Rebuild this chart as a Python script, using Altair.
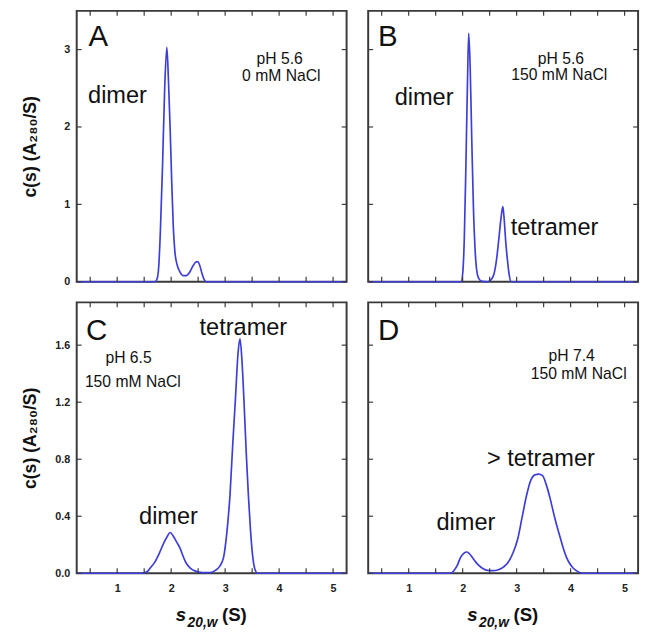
import altair as alt
import pandas as pd

# ---------------- data ----------------
S_A = [0.25, 1.70, 1.74, 1.77, 1.80, 1.84, 1.88, 1.92, 1.95, 1.98, 2.01, 2.04, 2.07, 2.11, 2.16,
       2.22, 2.28, 2.34, 2.40, 2.45, 2.49, 2.53, 2.57, 2.61, 2.65, 5.25]
C_A = [0, 0, 0.04, 0.20, 0.65, 1.50, 2.50, 3.03, 2.60, 2.00, 1.30, 0.70, 0.38, 0.22, 0.13,
       0.08, 0.08, 0.12, 0.20, 0.25, 0.26, 0.21, 0.11, 0.03, 0, 0]

S_B = [0.25, 1.97, 2.00, 2.03, 2.06, 2.09, 2.112, 2.14, 2.17, 2.20, 2.23, 2.26, 2.30, 2.36, 2.46,
       2.52, 2.58, 2.63, 2.67, 2.71, 2.745, 2.77, 2.80, 2.83, 2.86, 2.90, 5.25]
C_B = [0, 0, 0.10, 0.55, 1.50, 2.60, 3.21, 2.75, 1.80, 0.95, 0.42, 0.15, 0.04, 0.005, 0,
       0.02, 0.10, 0.30, 0.55, 0.82, 0.97, 0.80, 0.50, 0.28, 0.10, 0, 0]

S_C = [0.25, 1.45, 1.55, 1.62, 1.70, 1.78, 1.86, 1.93, 1.98, 2.04, 2.10, 2.16, 2.22, 2.28, 2.36,
       2.45, 2.58, 2.72, 2.82, 2.90, 2.97, 3.03, 3.09, 3.14, 3.19, 3.24, 3.275, 3.31, 3.35, 3.39,
       3.43, 3.47, 3.51, 3.55, 3.60, 5.25]
C_C = [0, 0, 0.01, 0.04, 0.08, 0.14, 0.21, 0.26, 0.286, 0.26, 0.22, 0.18, 0.12, 0.07, 0.035,
       0.015, 0.005, 0.005, 0.02, 0.05, 0.11, 0.28, 0.55, 0.90, 1.22, 1.55, 1.645, 1.50, 1.20, 0.85,
       0.55, 0.30, 0.12, 0.03, 0, 0]

S_D = [0.25, 1.78, 1.84, 1.90, 1.96, 2.02, 2.08, 2.13, 2.18, 2.24, 2.30, 2.38, 2.46, 2.56, 2.66,
       2.76, 2.84, 2.93, 3.02, 3.10, 3.18, 3.26, 3.34, 3.41, 3.48, 3.55, 3.62, 3.68, 3.74, 3.80,
       3.86, 3.92, 3.98, 4.05, 4.12, 4.22, 5.25]
C_D = [0, 0, 0.02, 0.055, 0.11, 0.14, 0.149, 0.135, 0.11, 0.08, 0.055, 0.032, 0.02, 0.018, 0.025,
       0.045, 0.075, 0.14, 0.24, 0.39, 0.54, 0.65, 0.69, 0.695, 0.685, 0.62, 0.525, 0.43, 0.34, 0.26,
       0.18, 0.115, 0.07, 0.035, 0.015, 0, 0]

X_DOMAIN = [0.25, 5.25]
X_TICKS = [0.5, 1.0, 1.5, 2.0, 2.5, 3.0, 3.5, 4.0, 4.5, 5.0]
X_LABELS = [1, 2, 3, 4, 5]
Y_DOMAIN_TOP = [0, 3.5]
Y_TICKS_TOP = [0, 1, 2, 3]
Y_DOMAIN_BOT = [0, 1.9]
Y_TICKS_BOT = [0, 0.4, 0.8, 1.2, 1.6]

# annotations: label, s, c, font size, align
ANN_A = [("A", 0.47, 3.05, 30, "left"), ("dimer", 0.46, 2.31, 24, "left"),
         ("pH 5.6", 4.01, 2.82, 16, "center"), ("0 mM NaCl", 4.04, 2.60, 16, "center")]
ANN_B = [("B", 0.43, 3.05, 30, "left"), ("dimer", 0.74, 2.29, 24, "left"),
         ("tetramer", 2.89, 0.61, 24, "left"),
         ("pH 5.6", 3.82, 2.82, 16, "center"), ("150 mM NaCl", 3.79, 2.61, 16, "center")]
ANN_C = [("C", 0.42, 1.634, 30, "left"), ("tetramer", 3.337, 1.669, 24, "center"),
         ("dimer", 1.95, 0.343, 24, "center"),
         ("pH 6.5", 1.21, 1.477, 16, "center"), ("150 mM NaCl", 1.29, 1.307, 16, "center")]
ANN_D = [("D", 0.43, 1.634, 30, "left"), ("> tetramer", 3.45, 0.75, 24, "center"),
         ("dimer", 2.06, 0.30, 24, "center"),
         ("pH 7.4", 4.02, 1.49, 16, "center"), ("150 mM NaCl", 4.15, 1.365, 16, "center")]

Y_TITLE = "c(s) (A\u2082\u2088\u2080/S)"

# ---------------- styling ----------------
W, H = 275, 276
FONT = "Liberation Sans"
LINE = "#3d3dd9"
FRAME = "#3a3a3a"
TXT = "#111111"


def panel(s, c, ydom, yticks, ann, show_x, show_y, yfmt):
    xs = alt.Scale(domain=X_DOMAIN, nice=False, zero=False)
    ys = alt.Scale(domain=ydom, nice=False, zero=False)
    if show_x:
        xaxis = alt.Axis(values=X_LABELS, format="d", grid=False, ticks=False, tickSize=0,
                         domain=False, labelPadding=10, labelFont=FONT, labelFontSize=11,
                         labelFontWeight="bold", labelColor="#222", title=None)
    else:
        xaxis = None
    if show_y:
        yaxis = alt.Axis(values=yticks, format=yfmt, grid=False, ticks=False, tickSize=0,
                         domain=False, labelPadding=7, labelFont=FONT, labelFontSize=11,
                         labelFontWeight="bold", labelColor="#222", title=Y_TITLE,
                         titleFont=FONT, titleFontSize=18, titleFontWeight="bold",
                         titleColor=TXT, minExtent=22, maxExtent=22, titlePadding=16)
    else:
        yaxis = None

    def X(f):
        return alt.X(f, scale=xs, axis=xaxis)

    def Y(f):
        return alt.Y(f, scale=ys, axis=yaxis)

    df = pd.DataFrame({"s": s, "c": c})
    line = alt.Chart(df).mark_line(color=LINE, strokeWidth=1.7, interpolate="monotone").encode(
        x=X("s:Q"), y=Y("c:Q"))

    xt = pd.DataFrame({"s": X_TICKS})
    yt = pd.DataFrame({"c": yticks})
    rule = dict(color=FRAME, strokeWidth=1.2)
    tick_top = alt.Chart(xt).mark_rule(**rule).encode(
        x=X("s:Q"), y=alt.value(0), y2=alt.value(5))
    tick_bot = alt.Chart(xt).mark_rule(**rule).encode(
        x=X("s:Q"), y=alt.value(H - 5), y2=alt.value(H))
    tick_left = alt.Chart(yt).mark_rule(**rule).encode(
        y=Y("c:Q"), x=alt.value(0), x2=alt.value(5))
    tick_right = alt.Chart(yt).mark_rule(**rule).encode(
        y=Y("c:Q"), x=alt.value(W - 5), x2=alt.value(W))

    layers = [line, tick_top, tick_bot, tick_left, tick_right]

    adf = pd.DataFrame(ann, columns=["label", "s", "c", "fs", "align"])
    for al in ["left", "center"]:
        sub = adf[adf["align"] == al]
        if len(sub) == 0:
            continue
        layers.append(
            alt.Chart(sub).mark_text(align=al, baseline="alphabetic", font=FONT, color=TXT).encode(
                x=X("s:Q"), y=Y("c:Q"),
                text="label:N",
                size=alt.Size("fs:Q", scale=None, legend=None),
            )
        )

    if show_x:
        one = pd.DataFrame({"k": [0]})
        layers.append(alt.Chart(one).mark_text(
            text="s", align="left", baseline="alphabetic", font=FONT, fontSize=19,
            fontWeight="bold", fontStyle="italic", color=TXT).encode(
            x=alt.value(101), y=alt.value(H + 49)))
        layers.append(alt.Chart(one).mark_text(
            text="20,w", align="left", baseline="alphabetic", font=FONT, fontSize=14,
            fontWeight="bold", fontStyle="italic", color=TXT).encode(
            x=alt.value(113), y=alt.value(H + 55)))
        layers.append(alt.Chart(one).mark_text(
            text="(S)", align="left", baseline="alphabetic", font=FONT, fontSize=19,
            fontWeight="bold", color=TXT).encode(
            x=alt.value(148), y=alt.value(H + 49)))

    return alt.layer(*layers).properties(width=W, height=H)


pA = panel(S_A, C_A, Y_DOMAIN_TOP, Y_TICKS_TOP, ANN_A, False, True, "d")
pB = panel(S_B, C_B, Y_DOMAIN_TOP, Y_TICKS_TOP, ANN_B, False, False, "d")
pC = panel(S_C, C_C, Y_DOMAIN_BOT, Y_TICKS_BOT, ANN_C, True, True, ".1f")
pD = panel(S_D, C_D, Y_DOMAIN_BOT, Y_TICKS_BOT, ANN_D, True, False, ".1f")

chart = alt.vconcat(
    alt.hconcat(pA, pB, spacing=12),
    alt.hconcat(pC, pD, spacing=12),
    spacing=13,
).properties(
    padding={"left": 13, "top": -5, "right": 0, "bottom": 0}
).configure_view(
    stroke=FRAME, strokeWidth=2
)

chart.save("out.html", embed_options={"renderer": "svg", "actions": False})
